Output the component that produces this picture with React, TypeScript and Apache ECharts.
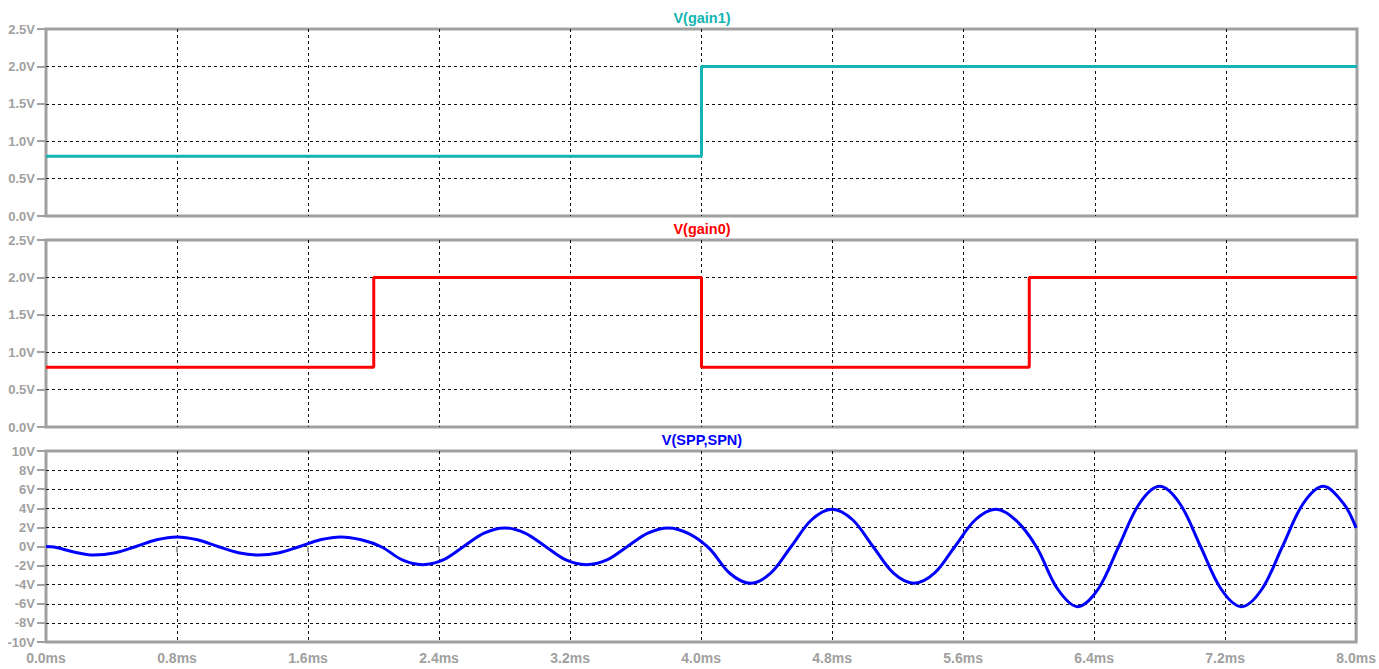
import React, { useEffect, useRef } from "react";
import * as echarts from "echarts";

// ---- data (time in ms, voltage in V) ----
const gain1Time = [0, 4.0, 4.0, 8.0];
const gain1Volts = [0.8, 0.8, 2.0, 2.0];

const gain0Time = [0, 2.0, 2.0, 4.0, 4.0, 6.0, 6.0, 8.0];
const gain0Volts = [0.8, 0.8, 2.0, 2.0, 0.8, 0.8, 2.0, 2.0];

const sppTime = [
  0, 0.05, 0.175, 0.29, 0.425, 0.55, 0.675, 0.8, 0.925, 1.05,
  1.175, 1.3, 1.425, 1.55, 1.675, 1.8, 1.925, 2.05,
  2.175, 2.3, 2.425, 2.55, 2.675, 2.8, 2.925, 3.05,
  3.175, 3.3, 3.425, 3.55, 3.675, 3.8, 3.925, 4.05,
  4.175, 4.3, 4.425, 4.55, 4.675, 4.8, 4.925, 5.05,
  5.175, 5.3, 5.425, 5.55, 5.675, 5.8, 5.925, 6.05,
  6.175, 6.3, 6.425, 6.55, 6.675, 6.8, 6.925, 7.05,
  7.175, 7.3, 7.425, 7.55, 7.675, 7.8, 7.925, 8.0,
];
const sppVolts = [
  0, -0.05, -0.6, -0.9, -0.65, 0, 0.7, 1.0, 0.7, 0,
  -0.65, -0.9, -0.65, 0, 0.7, 1.0, 0.7, -0.05,
  -1.4, -1.9, -1.4, 0, 1.4, 1.95, 1.4, 0,
  -1.4, -1.9, -1.4, 0, 1.4, 1.95, 1.35, -0.2,
  -2.8, -3.85, -2.8, 0, 2.8, 3.9, 2.8, 0,
  -2.8, -3.85, -2.8, 0, 2.8, 3.9, 2.7, -0.1,
  -4.4, -6.3, -4.45, 0, 4.45, 6.3, 4.45, 0,
  -4.45, -6.3, -4.45, 0, 4.45, 6.3, 4.45, 1.95,
];

const panelTitles = ["V(gain1)", "V(gain0)", "V(SPP,SPN)"];
const panelColors = ["#12b4b4", "#ff0000", "#0000ff"];

const zip = (xs: number[], ys: number[]) => xs.map((x, i) => [x, ys[i]]);

const GRAY = "#a0a0a0";
const FONT = "'Liberation Sans', Arial, sans-serif";

export default function App() {
  const ref = useRef<HTMLDivElement>(null);

  useEffect(() => {
    if (!ref.current) return;
    const chart = echarts.init(ref.current, null, { renderer: "svg" });

    const grids = [
      { left: 46, right: 22, top: 29, height: 187 },
      { left: 46, right: 22, top: 240, height: 187 },
      { left: 46, right: 22, top: 451, height: 191 },
    ].map((g) => ({ ...g, show: true, borderColor: GRAY, borderWidth: 3, backgroundColor: "transparent" }));

    const splitLine = {
      show: true,
      showMinLine: false,
      showMaxLine: false,
      lineStyle: { color: "#111", type: [3, 3], width: 1 },
    };

    const xAxes = [0, 1, 2].map((i) => ({
      type: "value",
      gridIndex: i,
      min: 0,
      max: 8,
      interval: 0.8,
      axisLine: { show: false },
      axisTick: { show: i === 2, length: 6, lineStyle: { color: GRAY, width: 2 } },
      axisLabel: {
        show: i === 2,
        color: GRAY,
        fontFamily: FONT,
        fontWeight: "bold",
        fontSize: 14,
        margin: 9,
        formatter: (v: number) => v.toFixed(1) + "ms",
      },
      splitLine,
    }));

    const yCommon = {
      type: "value",
      axisLine: { show: false },
      axisTick: { show: true, length: 9, lineStyle: { color: GRAY, width: 2 } },
      splitLine,
    };
    const yAxes = [
      {
        ...yCommon,
        gridIndex: 0,
        min: 0,
        max: 2.5,
        interval: 0.5,
        axisLabel: { color: GRAY, fontFamily: FONT, fontWeight: "bold", fontSize: 13, margin: 11, formatter: (v: number) => v.toFixed(1) + "V" },
      },
      {
        ...yCommon,
        gridIndex: 1,
        min: 0,
        max: 2.5,
        interval: 0.5,
        axisLabel: { color: GRAY, fontFamily: FONT, fontWeight: "bold", fontSize: 13, margin: 11, formatter: (v: number) => v.toFixed(1) + "V" },
      },
      {
        ...yCommon,
        gridIndex: 2,
        min: -10,
        max: 10,
        interval: 2,
        axisLabel: { color: GRAY, fontFamily: FONT, fontWeight: "bold", fontSize: 13, margin: 11, formatter: (v: number) => v + "V" },
      },
    ];

    const titleY = [18, 229, 440];

    chart.setOption({
      animation: false,
      backgroundColor: "#ffffff",
      grid: grids,
      xAxis: xAxes,
      yAxis: yAxes,
      graphic: panelTitles.map((t, i) => ({
        type: "text",
        x: 702,
        y: titleY[i],
        style: {
          text: t,
          fill: panelColors[i],
          font: `bold 14.5px ${FONT}`,
          textAlign: "center",
          textVerticalAlign: "middle",
        },
      })),
      series: [
        {
          type: "line",
          xAxisIndex: 0,
          yAxisIndex: 0,
          data: zip(gain1Time, gain1Volts),
          showSymbol: false,
          lineStyle: { color: panelColors[0], width: 3 },
        },
        {
          type: "line",
          xAxisIndex: 1,
          yAxisIndex: 1,
          data: zip(gain0Time, gain0Volts),
          showSymbol: false,
          lineStyle: { color: panelColors[1], width: 3 },
        },
        {
          type: "line",
          xAxisIndex: 2,
          yAxisIndex: 2,
          data: zip(sppTime, sppVolts),
          showSymbol: false,
          smooth: 0.33,
          lineStyle: { color: panelColors[2], width: 3 },
        },
      ],
    });

    return () => chart.dispose();
  }, []);

  return (
    <div
      ref={ref}
      style={{ position: "fixed", left: 0, top: 0, width: 1379, height: 669 }}
    />
  );
}
